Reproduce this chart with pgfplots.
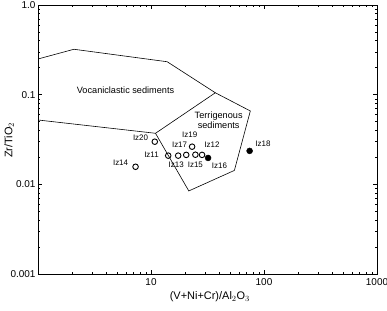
\documentclass[border=0pt]{standalone}
\usepackage{fontspec}
\setmainfont{Liberation Sans}
\usepackage{pgfplots}
\pgfplotsset{compat=1.18}
\begin{document}
\begin{tikzpicture}
\begin{axis}[
  at={(0,0)}, anchor=south west,
  scale only axis, width=339bp, height=269bp,
  xmode=log, ymode=log,
  xmin=1, xmax=1000, ymin=0.001, ymax=1,
  xtick={1,10,100,1000}, xticklabels={,10,100,1000},
  ytick={0.001,0.01,0.1,1}, yticklabels={0.001,0.01,0.1,1.0},
  tick align=inside,
  major tick length=4bp, minor tick length=2.5bp,
  axis line style={line width=0.8pt},
  every tick/.style={line width=0.5pt, black},
  /pgf/number format/assume math mode=true,
  tick label style={font=\fontsize{10}{11}\selectfont},
  yticklabel style={xshift=1bp},
  xticklabel style={yshift=-1bp},
  xlabel={(V+Ni+Cr)/Al$_2$O$_3$},
  ylabel={Zr/TiO$_2$},
  xlabel style={at={(axis description cs:0.507,-0.085)}, anchor=center, font=\fontsize{11}{12}\selectfont},
  ylabel style={at={(axis description cs:-0.085,0.498)}, anchor=center, font=\fontsize{11}{12}\selectfont},
  clip=true,
]
% Vocaniclastic field
\addplot[black, line width=0.6pt] coordinates {
 (1,0.25) (2.08,0.321) (13.9,0.233) (37.1,0.105) (10.96,0.0371) (1,0.0522)
};
% Terrigenous field
\addplot[black, line width=0.6pt] coordinates {
 (10.96,0.0371) (21.6,0.00844) (54.7,0.0143) (75.7,0.0658) (37.1,0.105)
};
% open circles
\addplot[only marks, mark=o, mark size=2.8pt, mark options={line width=0.9pt, black}] coordinates {
 (10.8,0.0299) (14.2,0.0209) (17.4,0.0209) (20.5,0.0213) (23.1,0.0263) (24.7,0.0214) (28.3,0.0213) (7.3,0.0157)
};
% filled circles
\addplot[only marks, mark=*, mark size=3pt, mark options={black, fill=black}] coordinates {
 (32.0,0.0197) (74.6,0.0236)
};
\node[font=\fontsize{9.2}{10.5}\selectfont] at (axis cs:5.95,0.113) {Vocaniclastic sediments};
\node[font=\fontsize{9.2}{10.5}\selectfont, align=center] at (axis cs:39.7,0.0516) {Terrigenous\\sediments};
\begin{scope}[every node/.style={font=\fontsize{8}{9}\selectfont, inner sep=0pt}]
\node at (axis cs:8.08,0.0327) {Iz20};
\node at (axis cs:10.1,0.0213) {Iz11};
\node at (axis cs:5.38,0.0172) {Iz14};
\node at (axis cs:16.7,0.0164) {Iz13};
\node at (axis cs:24.7,0.0164) {Iz15};
\node at (axis cs:40.3,0.0162) {Iz16};
\node at (axis cs:17.9,0.0275) {Iz17};
\node at (axis cs:22.0,0.0355) {Iz19};
\node at (axis cs:34.7,0.0275) {Iz12};
\node at (axis cs:98,0.028) {Iz18};
\end{scope}
\end{axis}
\pgfresetboundingbox
\path (-38bp,-37bp) rectangle (349bp,274bp);
\end{tikzpicture}
\end{document}
